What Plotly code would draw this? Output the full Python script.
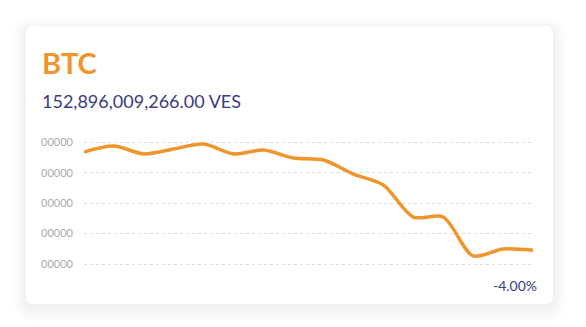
import plotly.graph_objects as go

W, H = 586, 327

# Data (values in billions VES)
x_idx = list(range(16))
prices = [159.37, 159.76, 159.24, 159.57, 159.89, 159.24, 159.50, 158.97,
          158.84, 157.92, 157.20, 155.09, 155.09, 152.53, 152.99, 152.90]
tick_vals = [152, 154, 156, 158, 160]
tick_text = ["00000"] * 5
title_text = "BTC"
price_text = "152,896,009,266.00 VES"
change_text = "-4.00%"

ORANGE = "#f0952c"
NAVY = "#3b3b7e"


def px2x(p):
    return p / W


def px2y(p):
    return 1 - p / H


def rrect(x0, y0, x1, y1, r):
    rx, ry = r / W, r / H
    X0, X1 = px2x(x0), px2x(x1)
    Y0, Y1 = px2y(y0), px2y(y1)  # Y0 top (larger), Y1 bottom
    return (f"M {X0+rx},{Y0} L {X1-rx},{Y0} Q {X1},{Y0} {X1},{Y0-ry} "
            f"L {X1},{Y1+ry} Q {X1},{Y1} {X1-rx},{Y1} "
            f"L {X0+rx},{Y1} Q {X0},{Y1} {X0},{Y1+ry} "
            f"L {X0},{Y0-ry} Q {X0},{Y0} {X0+rx},{Y0} Z")


shapes = []
# soft shadow
for i in range(14, 0, -1):
    shapes.append(dict(type="path", xref="paper", yref="paper", layer="below",
                       path=rrect(26 - i, 26 - i + 4, 553 + i, 304 + i + 4, 8 + i),
                       fillcolor="rgba(0,0,0,0.005)", line=dict(width=0)))
shapes.append(dict(type="path", xref="paper", yref="paper", layer="below",
                   path=rrect(26, 26, 553, 304, 8),
                   fillcolor="white", line=dict(width=0)))

fig = go.Figure()
fig.add_trace(go.Scatter(
    x=x_idx, y=prices, mode="lines",
    line=dict(color=ORANGE, width=3.5, shape="spline", smoothing=0.8),
    hoverinfo="skip", showlegend=False))

top_px, bot_px = 130, 275


def val_at(p):
    return 152 + (264 - p) / 30.4 * 2


fig.update_layout(
    width=W, height=H,
    margin=dict(l=0, r=0, t=0, b=0),
    paper_bgcolor="white",
    plot_bgcolor="rgba(0,0,0,0)",
    shapes=shapes,
    xaxis=dict(domain=[84 / W, 533 / W], range=[0, 15], visible=False),
    yaxis=dict(domain=[1 - bot_px / H, 1 - top_px / H],
               range=[val_at(bot_px), val_at(top_px)],
               tickvals=tick_vals, ticktext=tick_text,
               showgrid=True, gridcolor="#dddddd", griddash="dot", gridwidth=1,
               zeroline=False, showline=False, ticks="",
               ticklabelstandoff=10,
               tickfont=dict(family="Lato", size=11, color="#aaaaaa")),
    annotations=[
        dict(text=f"<b>{title_text}</b>", xref="paper", yref="paper",
             x=px2x(40), y=px2y(63), xanchor="left", yanchor="middle",
             showarrow=False, font=dict(family="Lato", size=29, color=ORANGE)),
        dict(text=price_text, xref="paper", yref="paper",
             x=px2x(40), y=px2y(101), xanchor="left", yanchor="middle",
             showarrow=False, font=dict(family="Lato", size=18, color=NAVY)),
        dict(text=change_text, xref="paper", yref="paper",
             x=px2x(539), y=px2y(285), xanchor="right", yanchor="middle",
             showarrow=False, font=dict(family="Lato", size=14, color=NAVY)),
    ],
)

fig.write_html("out.html")
